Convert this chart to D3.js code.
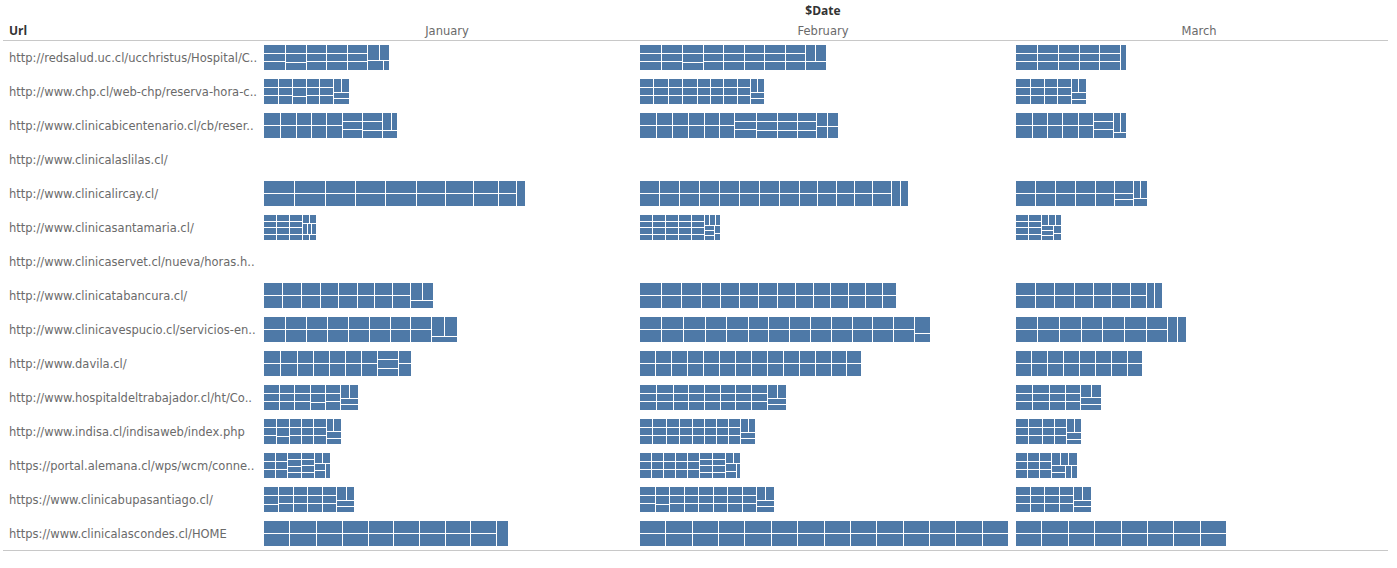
<!DOCTYPE html>
<html><head><meta charset="utf-8">
<script src="https://cdn.jsdelivr.net/npm/d3@7"></script>
<style>
body{margin:0;background:#fff;}
text{font-family:"DejaVu Sans","Open Sans",Arial,sans-serif;}
text.hdr{font-family:"Open Sans","Liberation Sans",Arial,sans-serif;}
</style>
</head><body>
<svg id="chart" width="1397" height="568"></svg>
<script>
const urls = [
  "http://redsalud.uc.cl/ucchristus/Hospital/C..",
  "http://www.chp.cl/web-chp/reserva-hora-c..",
  "http://www.clinicabicentenario.cl/cb/reser..",
  "http://www.clinicalaslilas.cl/",
  "http://www.clinicalircay.cl/",
  "http://www.clinicasantamaria.cl/",
  "http://www.clinicaservet.cl/nueva/horas.h..",
  "http://www.clinicatabancura.cl/",
  "http://www.clinicavespucio.cl/servicios-en..",
  "http://www.davila.cl/",
  "http://www.hospitaldeltrabajador.cl/ht/Co..",
  "http://www.indisa.cl/indisaweb/index.php",
  "https://portal.alemana.cl/wps/wcm/conne..",
  "https://www.clinicabupasantiago.cl/",
  "https://www.clinicalascondes.cl/HOME"
];
const months = ["January", "February", "March"];

const janValues = [
  [18,18,18,18,18,17,17,17,17,17,17,17,17,17,17,17,16,15,6],
  [12,12,12,12,12,12,12,12,11,11,11,11,11,11,11,11,10,10,9],
  [21,21,20,20,19,19,19,19,19,19,17,17,17,17,16,16,16,11,11],
  [],
  [39,39,38,38,38,38,38,38,38,38,36,36,36,36,31,31,23,23,21],
  [8,8,8,8,8,8,8,8,8,8,8,8,6,6,5,5,5,4,4],
  [],
  [24,24,24,24,23,23,23,23,23,23,22,22,22,22,22,22,21,20,18],
  [27,27,27,27,26,26,26,26,26,26,26,26,26,26,26,26,25,25,14],
  [21,21,21,21,20,20,20,20,20,20,20,20,20,20,18,17,17,17,17],
  [13,13,13,13,13,13,13,13,13,13,13,12,12,12,12,12,12,12,10],
  [11,11,11,11,11,10,10,10,10,10,10,10,10,10,10,10,10,10,9],
  [10,10,10,10,10,10,9,9,8,8,8,8,8,8,8,8,8,8,7],
  [13,13,12,12,12,12,12,12,12,12,12,12,12,12,12,12,11,11,10],
  [33,33,33,33,33,33,32,32,32,32,32,32,32,32,32,32,32,32,30]
];
const febValues = [
  [18,18,18,18,18,18,18,17,17,17,17,17,17,17,17,17,17,17,17,17,17,17,17,17,17,17,17],
  [12,12,12,12,12,12,12,12,12,12,12,12,11,11,11,11,11,11,11,11,11,11,11,11,10,9,9,8],
  [21,21,20,20,20,20,20,20,19,19,19,19,18,18,18,18,18,17,17,17,16,16,16,15,15,15,13,13],
  [],
  [25,25,25,25,25,25,25,25,25,25,25,25,25,25,25,25,23,23,23,23,23,23,23,23,23,23,22,20],
  [8,8,8,8,8,8,8,8,8,8,8,8,8,8,8,8,8,8,8,8,6,6,5,5,5,5,4,4],
  [],
  [27,27,25,25,25,25,24,24,24,24,24,24,24,24,22,22,22,22,22,22,22,22,22,22,21,21,18,18],
  [28,28,27,27,27,27,27,27,27,27,26,26,26,26,26,26,26,26,26,26,26,26,26,26,26,26,26,13],
  [20,20,20,20,20,20,20,20,20,20,20,20,20,20,20,20,20,20,20,20,20,20,20,19,19,19,19,19],
  [14,14,14,14,14,14,13,13,13,13,13,13,13,13,13,13,13,13,13,13,13,13,13,13,13,12,12,11],
  [11,11,11,11,11,11,11,11,11,11,11,11,10,10,10,10,10,10,10,10,10,10,10,10,10,10,9,8],
  [10,10,10,10,10,10,10,10,10,10,10,10,10,10,10,8,8,8,8,8,8,8,8,8,8,8,7,7],
  [13,13,13,13,12,12,12,12,12,12,12,12,12,12,12,12,12,12,12,12,12,12,12,12,12,11,11,10],
  [33,33,33,33,33,33,33,33,33,33,33,33,33,33,33,33,33,33,33,33,33,33,33,33,33,33,33,33]
];
const marValues = [
  [18,18,18,18,18,18,17,17,17,17,17,17,17,17,17,15],
  [12,12,12,12,12,12,11,11,11,11,11,11,10,10,10,8],
  [21,21,19,19,19,19,19,19,19,19,17,17,17,12,12,7],
  [],
  [25,25,25,25,25,25,25,25,23,23,23,12,12,12,12,11],
  [8,8,8,8,8,8,8,8,7,7,6,6,6,6,6,5],
  [],
  [25,25,24,24,24,24,24,24,23,23,23,23,20,20,20,20],
  [28,28,27,27,27,27,27,27,27,27,27,27,27,27,25,23],
  [20,20,20,20,20,20,20,20,20,20,20,20,19,19,19,19],
  [14,14,14,14,14,14,13,13,13,13,13,13,13,13,13,13],
  [11,11,11,11,11,11,10,10,10,10,10,10,10,10,10,8],
  [10,10,10,10,10,10,10,10,10,10,10,10,9,8,8,7],
  [12,12,12,12,12,12,12,12,12,12,12,12,12,11,11,10],
  [33,33,33,33,33,33,33,33,33,33,33,33,33,33,33,33]
];
const monthValues = [janValues, febValues, marValues];

const svg = d3.select("#chart");
const fill = "#4e79a7";
const barH = 25;

const y = d3.scaleBand().domain(urls).range([41, 550]);
const col = d3.scaleBand().domain(months).range([259, 1387]);

const cells = [];
months.forEach((m, mi) => {
  urls.forEach((u, ui) => {
    const vals = monthValues[mi][ui];
    cells.push({month: m, url: u, values: vals, total: d3.sum(vals)});
  });
});
const w = d3.scaleLinear().domain([0, d3.max(cells, d => d.total)]).range([0, 368]);

svg.append("line").attr("x1", 3).attr("x2", 1388).attr("y1", 40.5).attr("y2", 40.5)
  .attr("stroke", "#c8c8c8").attr("stroke-width", 1);
svg.append("line").attr("x1", 3).attr("x2", 1388).attr("y1", 550.5).attr("y2", 550.5)
  .attr("stroke", "#c8c8c8").attr("stroke-width", 1);

svg.append("text").attr("class", "hdr")
  .attr("x", col("February") + col.bandwidth() / 2).attr("y", 15)
  .attr("text-anchor", "middle").attr("font-size", 12).attr("font-weight", "bold")
  .attr("fill", "#333").text("$Date");
svg.append("text").attr("class", "hdr").attr("x", 9).attr("y", 35).attr("font-size", 12)
  .attr("font-weight", "bold").attr("fill", "#333").text("Url");
svg.selectAll("text.month").data(months).enter().append("text")
  .attr("class", "month")
  .attr("x", d => col(d) + col.bandwidth() / 2).attr("y", 35)
  .attr("text-anchor", "middle").attr("font-size", 11.5).attr("fill", "#6a6a6a")
  .text(d => d);

svg.selectAll("text.url").data(urls).enter().append("text")
  .attr("class", "url")
  .attr("x", 9).attr("y", d => y(d) + y.bandwidth() / 2 + 4.5)
  .attr("font-size", 11.5).attr("fill", "#6a6a6a")
  .text(d => d);

const tm = d3.treemap().tile(d3.treemapSquarify.ratio(1.7)).paddingInner(1).round(true);

cells.forEach(c => {
  if (!c.values.length) return;
  const bw = w(c.total);
  const root = d3.hierarchy({children: c.values.map(v => ({value: v}))})
    .sum(d => d.value || 0)
    .sort((a, b) => b.value - a.value);
  tm.size([bw, barH])(root);
  const x0 = col(c.month) + 5;
  const y0 = y(c.url) + (y.bandwidth() - barH) / 2;
  svg.append("g").attr("transform", `translate(${x0},${Math.round(y0)})`)
    .selectAll("rect").data(root.leaves()).enter().append("rect")
    .attr("x", d => d.x0).attr("y", d => d.y0)
    .attr("width", d => Math.max(0, d.x1 - d.x0))
    .attr("height", d => Math.max(0, d.y1 - d.y0))
    .attr("fill", fill);
});
</script>
</body></html>
